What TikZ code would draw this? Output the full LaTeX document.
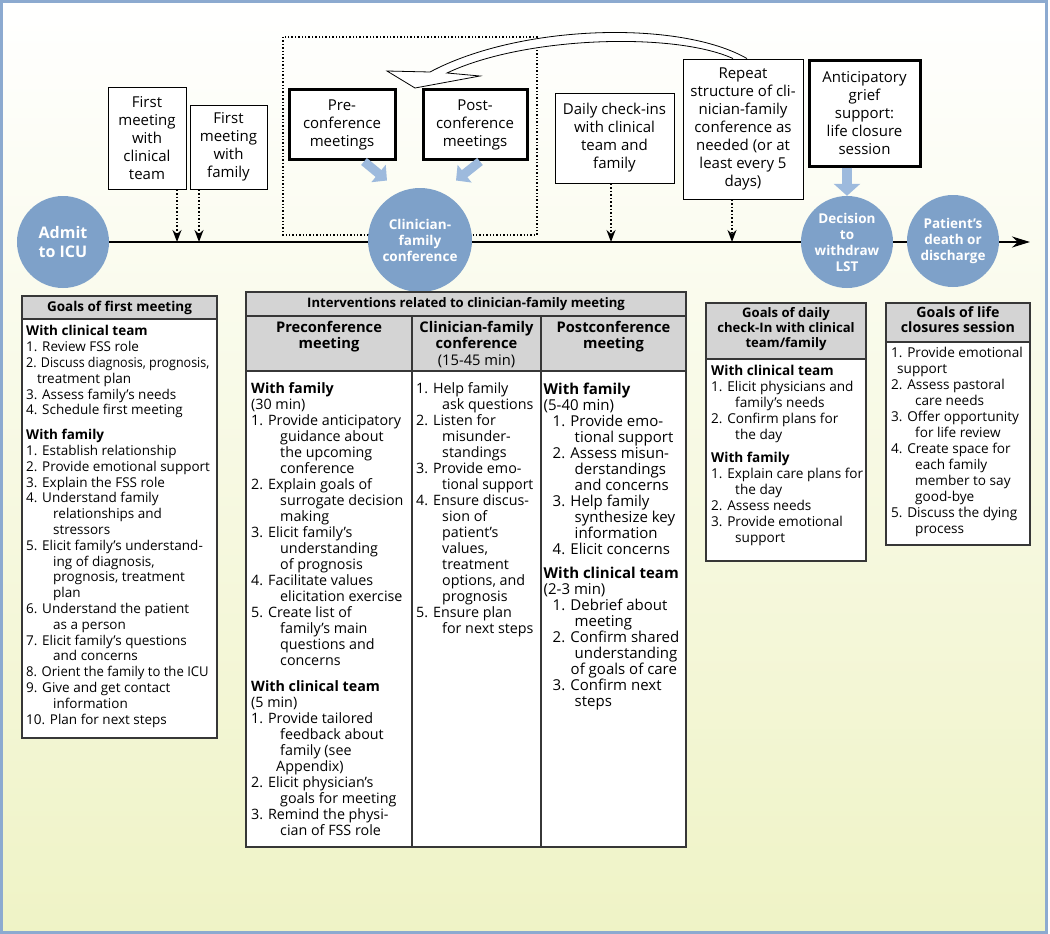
\documentclass[tikz,border=0pt]{standalone}
\usepackage{fontspec}
\setmainfont{Open Sans}
\usepackage{graphicx}
\usetikzlibrary{arrows.meta,calc}
\definecolor{circ}{RGB}{126,161,201}
\definecolor{lblue}{RGB}{157,186,221}
\definecolor{framecol}{RGB}{140,170,208}
\definecolor{hdr}{RGB}{212,212,212}
\definecolor{bgy}{RGB}{239,243,198}
\definecolor{tline}{RGB}{55,55,55}
\newcommand\sqz[2][0.9]{\scalebox{#1}[1]{#2}}
\tikzset{
 topbox/.style={draw=black, line width=0.9pt, fill=white, align=center, inner sep=0pt, font=\fontsize{15}{18}\selectfont},
 thickbox/.style={topbox, line width=3pt},
 stage/.style={circle, fill=circ, text=white, align=center, inner sep=0pt, font=\bfseries\fontsize{13.5}{16}\selectfont},
 dotarrow/.style={dotted, line width=1.6pt, -{Stealth[length=12pt,width=9pt]}},
 bluearrow/.style={lblue, line width=9pt, -{Triangle[length=11pt,width=22pt]}},
 tabframe/.style={draw=tline, line width=1.1pt},
 hdrtext/.style={align=center, inner sep=0pt, font=\bfseries\fontsize{13.5}{15}\selectfont},
 subhdr/.style={hdrtext, anchor=north, font=\bfseries\fontsize{14.7}{16.4}\selectfont},
 bodyA/.style={align=left, inner sep=0pt, anchor=north west, font=\fontsize{13.5}{15.8}\selectfont},
 bodyB/.style={align=left, inner sep=0pt, anchor=north west, font=\fontsize{14.3}{16}\selectfont},
 bodyD/.style={align=left, inner sep=0pt, anchor=north west, font=\fontsize{15}{16}\selectfont},
 bodyC/.style={align=left, inner sep=0pt, anchor=north west, font=\fontsize{13.6}{16}\selectfont},
}
\begin{document}
\begin{tikzpicture}[x=1pt,y=-1pt]
\useasboundingbox (0,0) rectangle (1050,934);
% background and frame
\shade[top color=white, bottom color=bgy] (1.5,1.5) rectangle (1046.5,932.5);
\draw[framecol, line width=3pt] (1.5,1.5) rectangle (1046.5,932.5);
% dotted conference frame
\draw[dotted, line width=1.4pt] (283,37) rectangle (537,235);
% top boxes
\node[topbox, minimum width=78pt, minimum height=102pt] (fmct) at (147,138) {First\\meeting\\with\\clinical\\team};
\node[topbox, minimum width=77pt, minimum height=84pt] (fmf) at (228.5,147) {First\\meeting\\with\\family};
\node[thickbox, minimum width=106pt, minimum height=69pt] (pre) at (342,124.5) {Pre-\\conference\\meetings};
\node[thickbox, minimum width=104pt, minimum height=69pt] (post) at (475,124.5) {Post-\\conference\\meetings};
\node[topbox, minimum width=119pt, minimum height=90pt] (daily) at (614.5,138) {Daily check-ins\\with clinical\\team and\\family};
\node[topbox, minimum width=120pt, minimum height=140pt] (repeat) at (743,129) {Repeat\\structure of cli-\\nician-family\\conference as\\needed (or at\\least every 5\\days)};
\node[thickbox, minimum width=111pt, minimum height=105pt] (antic) at (864.5,113.5) {Anticipatory\\grief\\support:\\life closure\\session};
% curved hollow arrow from repeat box back to the conference frame
\draw[fill=white, line width=0.8pt, line join=miter]
  ($(repeat.north)+(4,0)$) .. controls (680,20) and (520,24) .. (430,72)
  -- (387,71) -- (415,88) -- (480,76) -- (447,73)
  .. controls (525,36) and (675,32) .. ($(repeat.north)+(-10,0)$);
% timeline
\coordinate (tend) at (1030,242);
\coordinate (ta) at (177,242);
\coordinate (tb) at (199,242);
\coordinate (tc) at (611,242);
\coordinate (td) at (732,242);
\node[stage, minimum size=92pt, font=\bfseries\fontsize{16}{19}\selectfont] (admit) at (63,242) {Admit\\to ICU};
\draw[line width=2.2pt, -{Stealth[length=18pt,width=11pt]}] (admit.east) -- (tend);
\node[stage, minimum size=104pt] (conf) at (420,240) {Clinician-\\family\\conference};
\node[stage, minimum size=92pt] (decide) at (847,242) {Decision\\to\\withdraw\\LST};
\node[stage, minimum size=92pt] (death) at (953,241) {Patient’s\\death or\\discharge};
% dotted arrows
\draw[dotarrow] (fmct.south -| ta) -- (ta);
\draw[dotarrow] (fmf.south -| tb) -- (tb);
\draw[dotarrow] (daily.south -| tc) -- (tc);
\draw[dotarrow] (repeat.south -| td) -- (td);
% blue arrows
\draw[bluearrow] ($(pre.south)+(22,1)$) -- ($(pre.south)+(45,20)$);
\draw[bluearrow] ($(post.south)+(5,1)$) -- ($(post.south)+(-19,20)$);
\draw[bluearrow, line width=10pt, -{Triangle[length=12pt,width=26pt]}] (antic.south -| decide.north) -- (decide.north);

% ---------- Table 1 ----------
\fill[white] (22,296) rectangle (217,738);
\fill[hdr] (22,296) rectangle (217,319);
\draw[tabframe] (22,296) rectangle (217,738);
\draw[tabframe] (22,319) -- (217,319);
\node[hdrtext] (t1h) at (119.5,307.5) {Goals of first meeting};
\node[bodyA] (t1b) at (26,325.5) {%
{\bfseries With clinical team}\\
1. Review FSS role\\
\sqz[0.925]{2. Discuss diagnosis, prognosis,}\\
\hspace*{11pt}treatment plan\\
3. Assess family’s needs\\
4. Schedule first meeting\\[9pt]
{\bfseries With family}\\
1. Establish relationship\\
2. Provide emotional support\\
3. Explain the FSS role\\
4. Understand family\\
\hspace*{27pt}relationships and\\
\hspace*{27pt}stressors\\
5. Elicit family’s understand-\\
\hspace*{27pt}ing of diagnosis,\\
\hspace*{27pt}prognosis, treatment\\
\hspace*{27pt}plan\\
6. Understand the patient\\
\hspace*{27pt}as a person\\
7. Elicit family’s questions\\
\hspace*{27pt}and concerns\\
\sqz[0.97]{8. Orient the family to the ICU}\\
9. Give and get contact\\
\hspace*{27pt}information\\
10. Plan for next steps};

% ---------- Table 2 ----------
\fill[white] (246,292) rectangle (686,847);
\fill[hdr] (246,292) rectangle (686,371);
\draw[tabframe] (246,292) rectangle (686,847);
\draw[tabframe] (246,316) -- (686,316);
\draw[tabframe] (246,371) -- (686,371);
\draw[tabframe] (412,316) -- (412,847);
\draw[tabframe] (541,316) -- (541,847);
\node[hdrtext, font=\bfseries\fontsize{13.1}{15}\selectfont] (t2h) at (466,304.5) {Interventions related to clinician-family meeting};
\node[subhdr] (t2ha) at (329,321) {Preconference\\meeting};
\node[subhdr] (t2hb) at (476.5,321) {Clinician-family\\conference\\{\mdseries (15-45 min)}};
\node[subhdr] (t2hc) at (613.5,321) {Postconference\\meeting};
\node[bodyB] (t2a) at (251,382.5) {%
{\bfseries With family}\\
(30 min)\\
1. Provide anticipatory\\
\hspace*{29pt}guidance about\\
\hspace*{29pt}the upcoming\\
\hspace*{29pt}conference\\
2. Explain goals of\\
\hspace*{29pt}surrogate decision\\
\hspace*{29pt}making\\
3. Elicit family’s\\
\hspace*{29pt}understanding\\
\hspace*{29pt}of prognosis\\
4. Facilitate values\\
\hspace*{29pt}elicitation exercise\\
5. Create list of\\
\hspace*{29pt}family’s main\\
\hspace*{29pt}questions and\\
\hspace*{29pt}concerns\\[10pt]
{\bfseries With clinical team}\\
(5 min)\\
1. Provide tailored\\
\hspace*{29pt}feedback about\\
\hspace*{29pt}family (see\\
\hspace*{25pt}Appendix)\\
2. Elicit physician’s\\
\hspace*{29pt}goals for meeting\\
3. Remind the physi-\\
\hspace*{29pt}cian of FSS role};
\node[bodyB] (t2b) at (416,382.5) {%
1. Help family\\
\hspace*{26pt}ask questions\\
2. Listen for\\
\hspace*{26pt}misunder-\\
\hspace*{26pt}standings\\
3. Provide emo-\\
\hspace*{26pt}\sqz[0.97]{tional support}\\
4. Ensure discus-\\
\hspace*{26pt}sion of\\
\hspace*{26pt}patient’s\\
\hspace*{26pt}values,\\
\hspace*{26pt}treatment\\
\hspace*{26pt}options, and\\
\hspace*{26pt}prognosis\\
5. Ensure plan\\
\hspace*{26pt}for next steps};
\node[bodyD] (t2c) at (543.5,382.5) {%
{\bfseries With family}\\
(5-40 min)\\
\hspace*{9pt}1. Provide emo-\\
\hspace*{31pt}tional support\\
\hspace*{9pt}2. Assess misun-\\
\hspace*{31pt}derstandings\\
\hspace*{31pt}and concerns\\
\hspace*{9pt}3. Help family\\
\hspace*{31pt}synthesize key\\
\hspace*{31pt}information\\
\hspace*{9pt}4. Elicit concerns\\[8pt]
{\bfseries With clinical team}\\
(2-3 min)\\
\hspace*{9pt}1. Debrief about\\
\hspace*{31pt}meeting\\
\hspace*{9pt}2. Confirm shared\\
\hspace*{31pt}understanding\\
\hspace*{27pt}of goals of care\\
\hspace*{9pt}3. Confirm next\\
\hspace*{31pt}steps};

% ---------- Table 3 ----------
\fill[white] (706,303) rectangle (866,561);
\fill[hdr] (706,303) rectangle (866,359);
\draw[tabframe] (706,303) rectangle (866,561);
\draw[tabframe] (706,359) -- (866,359);
\node[hdrtext, anchor=north, font=\bfseries\fontsize{13.1}{15}\selectfont] (t3h) at (786,307) {Goals of daily\\check-In with clinical\\team/family};
\node[bodyC] (t3b) at (711,365) {%
{\bfseries With clinical team}\\
1. Elicit physicians and\\
\hspace*{24pt}family’s needs\\
2. Confirm plans for\\
\hspace*{24pt}the day\\[7pt]
{\bfseries With family}\\
1. Explain care plans for\\
\hspace*{24pt}the day\\
2. Assess needs\\
3. Provide emotional\\
\hspace*{24pt}support};

% ---------- Table 4 ----------
\fill[white] (886,303) rectangle (1030,545);
\fill[hdr] (886,303) rectangle (1030,342);
\draw[tabframe] (886,303) rectangle (1030,545);
\draw[tabframe] (886,342) -- (1030,342);
\node[hdrtext, anchor=north, font=\bfseries\fontsize{14.2}{15.5}\selectfont] (t4h) at (958,306) {Goals of life\\closures session};
\node[bodyC] (t4b) at (891,347) {%
1. Provide emotional\\
\hspace*{6pt}support\\
2. Assess pastoral\\
\hspace*{24pt}care needs\\
3. Offer opportunity\\
\hspace*{24pt}for life review\\
4. Create space for\\
\hspace*{24pt}each family\\
\hspace*{24pt}member to say\\
\hspace*{24pt}good-bye\\
5. Discuss the dying\\
\hspace*{24pt}process};
\end{tikzpicture}
\end{document}
